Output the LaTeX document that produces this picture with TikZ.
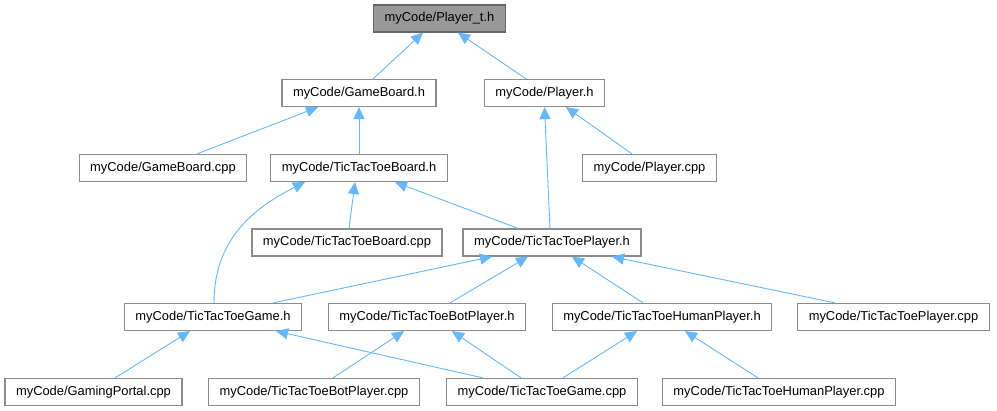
\documentclass[tikz,border=0pt]{standalone}
\usepackage{fontspec}
\setmainfont{Liberation Sans}
\usepackage{tikz}
\usetikzlibrary{arrows.meta,positioning}
\definecolor{dxEdge}{HTML}{63B8FF}
\definecolor{dxRule}{HTML}{8C8C8C}
\definecolor{dxRoot}{HTML}{999999}
\definecolor{dxDark}{HTML}{666666}

\begin{document}
\begin{tikzpicture}[x=1pt,y=-1pt,font=\fontsize{12.9}{15}\selectfont,
  s/.style={draw=dxRule,fill=white,line width=1.2pt,minimum height=27pt,
            inner xsep=11pt,inner ysep=0pt,anchor=center},
  root/.style={s,draw=dxDark,fill=dxRoot},
  a/.style={-{Triangle[length=12pt,width=11pt]},dxEdge,line width=0.9pt}]
\useasboundingbox (0,0) rectangle (997,411);
\node[root] (pt) at (439.5,18.5) {myCode/Player\_t.h};
\node[s] (gbh)  at (359,93)     {myCode/GameBoard.h};
\node[s] (ph)   at (544.5,93)   {myCode/Player.h};
\node[s] (gbc)  at (163,168)    {myCode/GameBoard.cpp};
\node[s] (tbh)  at (359,168)    {myCode/TicTacToeBoard.h};
\node[s] (pc)   at (649.5,168)  {myCode/Player.cpp};
\node[s] (tbc)  at (347,242.5)  {myCode/TicTacToeBoard.cpp};
\node[s] (tph)  at (552,242.5)  {myCode/TicTacToePlayer.h};
\node[s] (tgh)  at (213,317)    {myCode/TicTacToeGame.h};
\node[s] (tbph) at (427,317)    {myCode/TicTacToeBotPlayer.h};
\node[s] (thph) at (662,317)    {myCode/TicTacToeHumanPlayer.h};
\node[s] (tpc)  at (893.5,317)  {myCode/TicTacToePlayer.cpp};
\node[s] (gpc)  at (93.5,392)   {myCode/GamingPortal.cpp};
\node[s] (tbpc) at (314,392)    {myCode/TicTacToeBotPlayer.cpp};
\node[s] (tgc)  at (542,392)    {myCode/TicTacToeGame.cpp};
\node[s] (thpc) at (779,392)    {myCode/TicTacToeHumanPlayer.cpp};
% level 1
\draw[a] ([xshift=14]gbh.north) -- ([xshift=-16.5]pt.south);
\draw[a] ([xshift=-18.5]ph.north) -- ([xshift=18.5]pt.south);
% level 2
\draw[a] ([xshift=34]gbc.north) -- ([xshift=-41]gbh.south);
\draw[a] (tbh.north) -- (gbh.south);
\draw[a] ([xshift=-17.5]pc.north) -- ([xshift=21.5]ph.south);
\draw[a] ([xshift=-2]tph.north) -- (ph.south);
% level 3
\draw[a] ([xshift=2]tbc.north) -- ([xshift=-4]tbh.south);
\draw[a] ([xshift=-34]tph.north) -- ([xshift=36]tbh.south);
\draw[a] ([xshift=1]tgh.north) .. controls ([xshift=1,yshift=60]tgh.north) and ([xshift=-110,yshift=-28]tbh.south) .. ([xshift=-54]tbh.south);
% level 4
\draw[a] ([xshift=60]tgh.north) -- ([xshift=-60]tph.south);
\draw[a] ([xshift=23]tbph.north) -- ([xshift=-24]tph.south);
\draw[a] ([xshift=-19]thph.north) -- ([xshift=20]tph.south);
\draw[a] ([xshift=-58.5]tpc.north) -- ([xshift=60]tph.south);
% level 5
\draw[a] ([xshift=21.5]gpc.north) -- ([xshift=-23]tgh.south);
\draw[a] ([xshift=19]tbpc.north) -- ([xshift=-23]tbph.south);
\draw[a] ([xshift=-59]tgc.north) -- ([xshift=63]tgh.south);
\draw[a] ([xshift=-21]tgc.north) -- ([xshift=25]tbph.south);
\draw[a] ([xshift=21]tgc.north) -- ([xshift=-25]thph.south);
\draw[a] ([xshift=-21]thpc.north) -- ([xshift=23]thph.south);
\end{tikzpicture}
\end{document}
